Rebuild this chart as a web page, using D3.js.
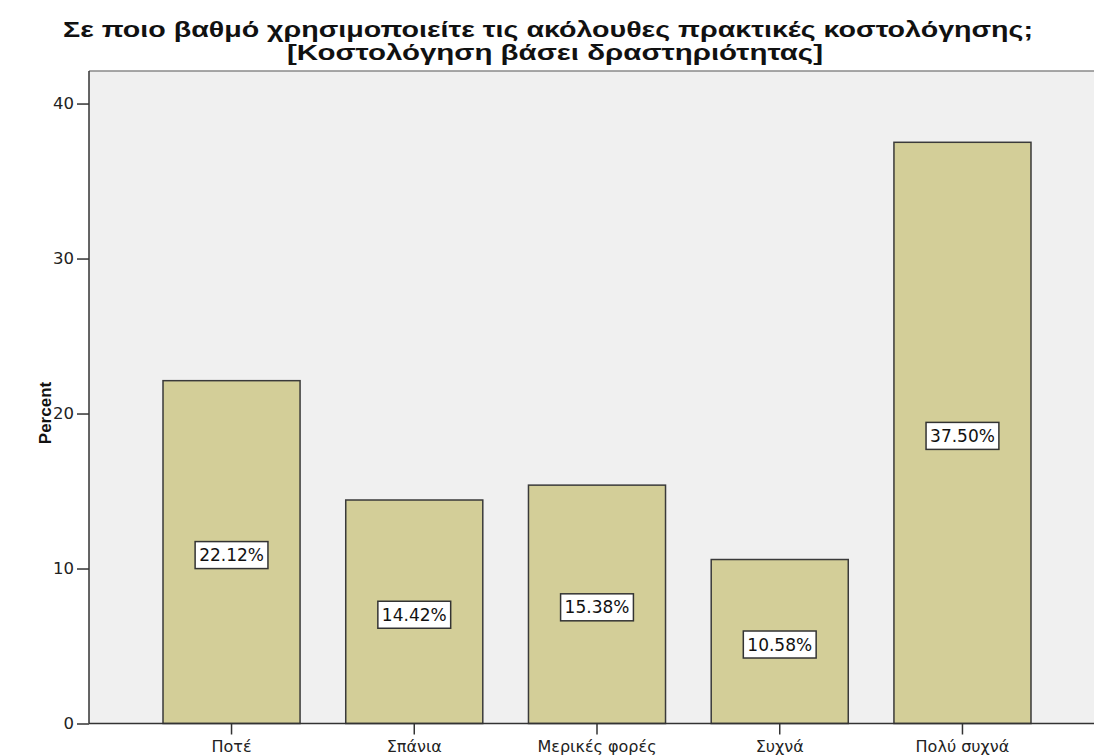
<!DOCTYPE html>
<html>
<head>
<meta charset="utf-8">
<script src="https://cdn.jsdelivr.net/npm/d3@7/dist/d3.min.js"></script>
<style>
  body { margin: 0; background: #fff; }
  svg { display: block; }
</style>
</head>
<body>
<svg id="chart" width="1094" height="755"></svg>
<script>
const categories = ["Ποτέ", "Σπάνια", "Μερικές φορές", "Συχνά", "Πολύ συχνά"];
const percents = [22.12, 14.42, 15.38, 10.58, 37.50];
const yTicks = [0, 10, 20, 30, 40];
const titleLines = [
  "Σε ποιο βαθμό χρησιμοποιείτε τις ακόλουθες πρακτικές κοστολόγησης;",
  "[Κοστολόγηση βάσει δραστηριότητας]"
];
const yLabel = "Percent";

const svg = d3.select("#chart");
const plotLeft = 89, plotTop = 71, plotBottom = 723.5, plotRight = 1105;

const x = d3.scaleBand()
  .domain(categories)
  .range([plotLeft, plotRight])
  .paddingInner(0.25)
  .paddingOuter(0.405);

const y = d3.scaleLinear()
  .domain([0, 42.1])
  .range([plotBottom, plotTop]);

// plot background
svg.append("rect")
  .attr("x", plotLeft).attr("y", plotTop)
  .attr("width", 1094 - plotLeft).attr("height", plotBottom - plotTop)
  .attr("fill", "#f0f0f0");

// top frame line
svg.append("line")
  .attr("x1", plotLeft).attr("x2", 1094)
  .attr("y1", plotTop).attr("y2", plotTop)
  .attr("stroke", "#8a8a8a").attr("stroke-width", 1.5);

// bars
svg.append("g").selectAll("rect")
  .data(percents)
  .join("rect")
  .attr("x", (d, i) => x(categories[i]))
  .attr("y", d => y(d))
  .attr("width", x.bandwidth())
  .attr("height", d => plotBottom - y(d))
  .attr("fill", "#d3ce98")
  .attr("stroke", "#3a3a3a")
  .attr("stroke-width", 1.5);

// value labels in white boxes at mid-height of each bar
const labels = svg.append("g").selectAll("g")
  .data(percents)
  .join("g")
  .attr("transform", (d, i) => `translate(${x(categories[i]) + x.bandwidth() / 2},${(y(d) + plotBottom) / 2 + 3})`);

labels.append("text")
  .attr("text-anchor", "middle")
  .attr("dy", "0.36em")
  .attr("font-family", "DejaVu Sans, sans-serif")
  .attr("font-size", 17)
  .attr("fill", "#111")
  .text(d => d.toFixed(2) + "%")
  .each(function () {
    const b = this.getBBox();
    d3.select(this.parentNode).insert("rect", "text")
      .attr("x", b.x - 4).attr("y", -13.5)
      .attr("width", b.width + 8).attr("height", 27)
      .attr("fill", "#fff")
      .attr("stroke", "#333")
      .attr("stroke-width", 1.5);
  });

// y axis
const yAxis = svg.append("g")
  .attr("transform", `translate(${plotLeft},0)`)
  .call(d3.axisLeft(y).tickValues(yTicks).tickSize(12).tickPadding(3).tickSizeOuter(0));
yAxis.select(".domain").attr("stroke", "#333").attr("stroke-width", 1.5)
  .attr("d", `M0,${plotTop}V${plotBottom}`);
yAxis.selectAll(".tick line").attr("stroke", "#333").attr("stroke-width", 1.5);
yAxis.selectAll(".tick text")
  .attr("font-family", "DejaVu Sans, sans-serif")
  .attr("font-size", 16.5)
  .attr("fill", "#222");

// x axis
const xAxis = svg.append("g")
  .attr("transform", `translate(0,${plotBottom})`)
  .call(d3.axisBottom(x).tickSize(11).tickPadding(6).tickSizeOuter(0));
xAxis.select(".domain").attr("stroke", "#333").attr("stroke-width", 1.5)
  .attr("d", `M${plotLeft},0H1094`);
xAxis.selectAll(".tick line").attr("stroke", "#333").attr("stroke-width", 1.5);
xAxis.selectAll(".tick text")
  .attr("font-family", "DejaVu Sans, sans-serif")
  .attr("font-size", 16)
  .attr("fill", "#222");

// y axis title
svg.append("text")
  .attr("transform", "translate(51,413) rotate(-90)")
  .attr("text-anchor", "middle")
  .attr("font-family", "Liberation Sans, Arial, sans-serif")
  .attr("font-weight", "bold")
  .attr("font-size", 17)
  .attr("fill", "#111")
  .text(yLabel);

// chart title, two lines fitted to fixed widths
const titleWidths = [970, 536];
const titleCenters = [548, 555];
const titleBaselines = [37, 60];
svg.append("g").selectAll("text")
  .data(titleLines)
  .join("text")
  .attr("x", (d, i) => titleCenters[i] - titleWidths[i] / 2)
  .attr("y", (d, i) => titleBaselines[i])
  .attr("textLength", (d, i) => titleWidths[i])
  .attr("lengthAdjust", "spacingAndGlyphs")
  .attr("font-family", "Liberation Sans, Arial, sans-serif")
  .attr("font-weight", "bold")
  .attr("font-size", 22)
  .attr("fill", "#111")
  .text(d => d);
</script>
</body>
</html>
